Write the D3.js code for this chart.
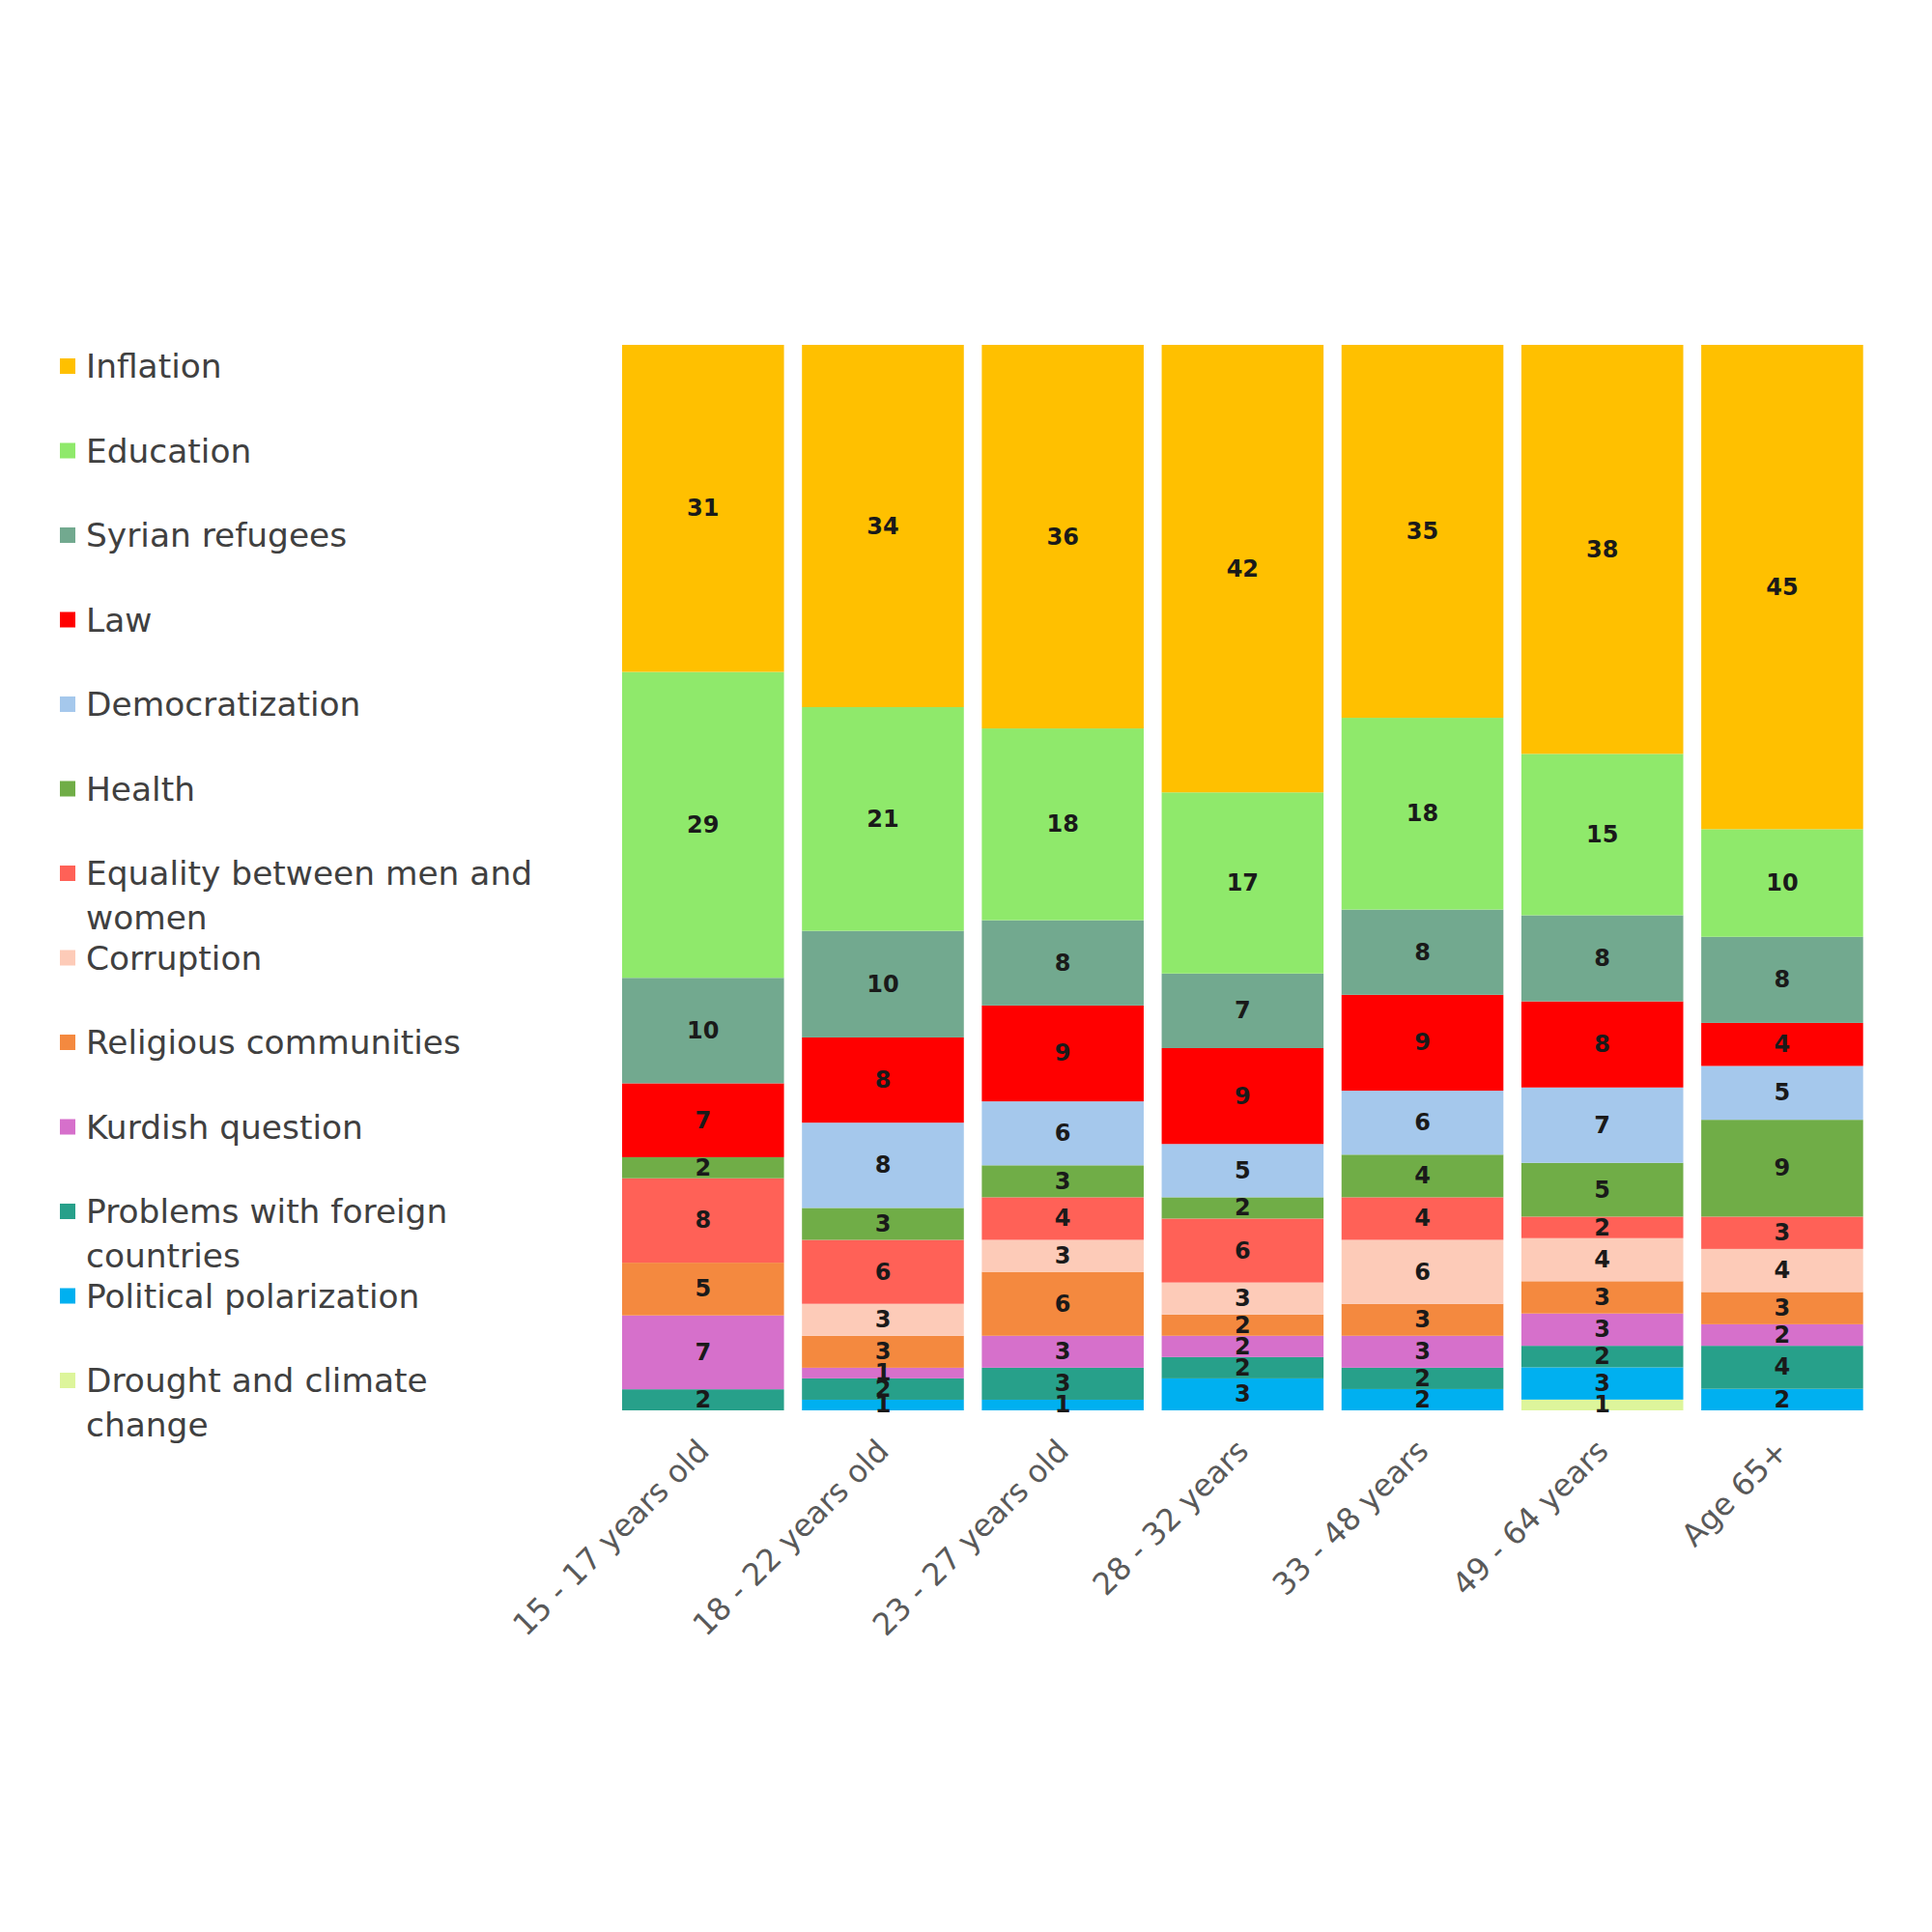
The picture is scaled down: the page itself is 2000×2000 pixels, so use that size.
<!DOCTYPE html>
<html>
<head>
<meta charset="utf-8">
<script src="https://cdn.jsdelivr.net/npm/d3@7"></script>
<style>
  html, body { margin: 0; padding: 0; background: #ffffff; }
  svg { display: block; }
</style>
</head>
<body>
<svg id="chart" width="2000" height="2000"></svg>
<script>
// ---- Data ----
const ageGroups = ["15 - 17 years old", "18 - 22 years old", "23 - 27 years old", "28 - 32 years", "33 - 48 years", "49 - 64 years", "Age 65+"];

const topics = ["Inflation", "Education", "Syrian refugees", "Law", "Democratization", "Health",
  "Equality between men and women", "Corruption", "Religious communities", "Kurdish question",
  "Problems with foreign countries", "Political polarization", "Drought and climate change"];

const inflation       = [31, 34, 36, 42, 35, 38, 45];
const education       = [29, 21, 18, 17, 18, 15, 10];
const syrianRefugees  = [10, 10, 8, 7, 8, 8, 8];
const law             = [7, 8, 9, 9, 9, 8, 4];
const democratization = [0, 8, 6, 5, 6, 7, 5];
const health          = [2, 3, 3, 2, 4, 5, 9];
const equality        = [8, 6, 4, 6, 4, 2, 3];
const corruption      = [0, 3, 3, 3, 6, 4, 4];
const religious       = [5, 3, 6, 2, 3, 3, 3];
const kurdish         = [7, 1, 3, 2, 3, 3, 2];
const foreign         = [2, 2, 3, 2, 2, 2, 4];
const polarization    = [0, 1, 1, 3, 2, 3, 2];
const drought         = [0, 0, 0, 0, 0, 1, 0];

const seriesValues = [inflation, education, syrianRefugees, law, democratization, health,
  equality, corruption, religious, kurdish, foreign, polarization, drought];

const colors = ["#FFC000", "#8FE96B", "#72A98F", "#FF0000", "#A5C8EC", "#70AD47",
  "#FF6157", "#FDCBB8", "#F4893F", "#D670CB", "#27A08A", "#00B0F0", "#DDF59B"];

// ---- Build table ----
const table = ageGroups.map((g, i) => {
  const row = { group: g };
  topics.forEach((t, k) => { row[t] = seriesValues[k][i]; });
  return row;
});

// stack from bottom (last topic) to top (first topic)
const stackKeys = topics.slice().reverse();
const stack = d3.stack().keys(stackKeys).offset(d3.stackOffsetExpand);
const layers = stack(table);

const svg = d3.select("#chart");

const x = d3.scaleBand().domain(ageGroups).range([634.7, 1938]).paddingInner(0.1).paddingOuter(0.05);
const y = d3.scaleLinear().domain([0, 1]).range([1460, 357]);
const color = d3.scaleOrdinal().domain(topics).range(colors);

// Bars
const g = svg.append("g");
layers.forEach(layer => {
  const key = layer.key;
  g.selectAll(null)
    .data(layer.filter(d => d.data[key] > 0))
    .enter().append("rect")
    .attr("x", d => x(d.data.group))
    .attr("width", x.bandwidth())
    .attr("y", d => y(d[1]))
    .attr("height", d => y(d[0]) - y(d[1]))
    .attr("fill", color(key));
});

// Value labels
layers.forEach(layer => {
  const key = layer.key;
  g.selectAll(null)
    .data(layer.filter(d => d.data[key] > 0))
    .enter().append("text")
    .attr("x", d => x(d.data.group) + x.bandwidth() / 2)
    .attr("y", d => (y(d[0]) + y(d[1])) / 2)
    .attr("text-anchor", "middle")
    .attr("dominant-baseline", "central")
    .attr("font-family", "DejaVu Sans, sans-serif")
    .attr("font-weight", "bold")
    .attr("font-size", 24)
    .attr("fill", "#1a1a1a")
    .text(d => d.data[key]);
});

// X axis
const xAxis = svg.append("g")
  .attr("transform", "translate(0,1460)")
  .call(d3.axisBottom(x).tickSize(0).tickPadding(0));
xAxis.select(".domain").remove();
xAxis.selectAll("text")
  .attr("font-family", "DejaVu Sans, sans-serif")
  .attr("font-size", 32)
  .attr("fill", "#595959")
  .attr("text-anchor", "end")
  .attr("dy", null)
  .attr("y", 0)
  .attr("transform", "translate(8,44) rotate(-45)");

// Legend
const legend = svg.append("g").attr("transform", "translate(62,379)");
const rowStep = 87.5;
const wrapWidth = 475;
topics.forEach((t, i) => {
  const row = legend.append("g").attr("transform", `translate(0,${i * rowStep})`);
  row.append("rect").attr("x", 0).attr("y", -8).attr("width", 16).attr("height", 16).attr("fill", colors[i]);
  const text = row.append("text")
    .attr("x", 27)
    .attr("y", 0)
    .attr("dominant-baseline", "central")
    .attr("font-family", "DejaVu Sans, sans-serif")
    .attr("font-size", 34.4)
    .attr("fill", "#404040");
  // wrap
  const words = t.split(" ");
  let line = [];
  let tspan = text.append("tspan").attr("x", 27).attr("dy", 0);
  words.forEach(w => {
    line.push(w);
    tspan.text(line.join(" "));
    if (tspan.node().getComputedTextLength() > wrapWidth && line.length > 1) {
      line.pop();
      tspan.text(line.join(" "));
      line = [w];
      tspan = text.append("tspan").attr("x", 27).attr("dy", 46).text(w);
    }
  });
});
</script>
</body>
</html>
